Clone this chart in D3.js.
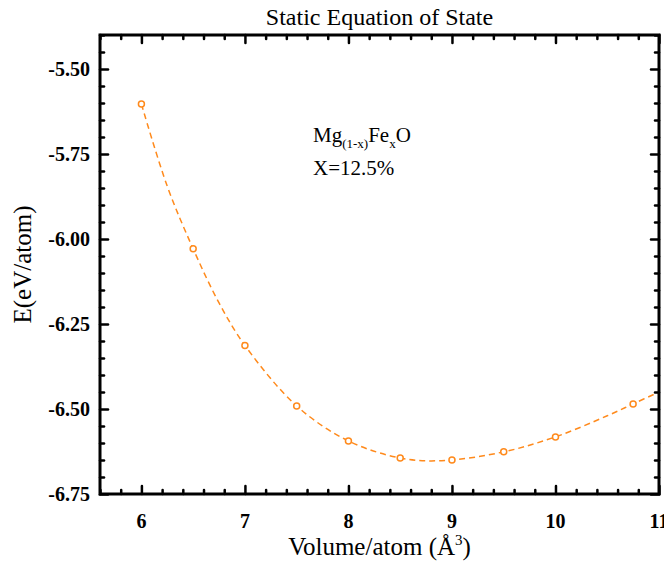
<!DOCTYPE html>
<html>
<head>
<meta charset="utf-8">
<script src="https://cdn.jsdelivr.net/npm/d3@7"></script>
<style>
  html, body { margin: 0; padding: 0; background: #fff; }
  svg { display: block; }
</style>
</head>
<body>
<svg id="chart" width="664" height="562"></svg>
<script>
// Calculated energies per atom at each volume
const volumes = [6.0, 6.5, 7.0, 7.5, 8.0, 8.5, 9.0, 9.5, 10.0, 10.75];
const energies = [-5.603, -6.029, -6.313, -6.491, -6.594, -6.644, -6.650, -6.626, -6.582, -6.485];

// Equation-of-state fit curve, sampled along the volume range
const fitVolumes = [6.0, 6.25, 6.5, 6.75, 7.0, 7.5, 8.0, 8.5, 8.9, 9.5, 10.0, 10.5, 10.75, 11.0];
const fitEnergies = [-5.603, -5.845, -6.029, -6.188, -6.313, -6.491, -6.594, -6.644, -6.652, -6.626, -6.582, -6.520, -6.485, -6.450];

const xMajorTicks = [6, 7, 8, 9, 10, 11];
const yMajorTicks = [-5.50, -5.75, -6.00, -6.25, -6.50, -6.75];

const FONT = "Liberation Serif, Tinos, Nimbus Roman, FreeSerif, Noto Serif, DejaVu Serif, Times New Roman, Times, serif";

const svg = d3.select("#chart").style("font-family", FONT);
const m = { left: 100, right: 659, top: 35, bottom: 494 };

const x = d3.scaleLinear().domain([5.6, 11]).range([m.left, m.right]);
const y = d3.scaleLinear().domain([-6.75, -5.40]).range([m.bottom, m.top]);

const orange = "#ff8a1c";

// Dashed fit curve
const line = d3.line()
  .x((d, i) => x(fitVolumes[i]))
  .y((d, i) => y(fitEnergies[i]))
  .curve(d3.curveCatmullRom);

svg.append("path")
  .datum(fitVolumes)
  .attr("d", line)
  .attr("fill", "none")
  .attr("stroke", orange)
  .attr("stroke-width", 1.5)
  .attr("stroke-dasharray", "6,4");

// Data markers
svg.append("g").selectAll("circle")
  .data(volumes)
  .join("circle")
  .attr("cx", d => x(d))
  .attr("cy", (d, i) => y(energies[i]))
  .attr("r", 3)
  .attr("fill", "#fff")
  .attr("stroke", orange)
  .attr("stroke-width", 1.5);

// Axes with inward ticks (major + minor) on all four sides
const xMinor = d3.range(5.6, 11.001, 0.2).filter(v => Math.abs(v - Math.round(v)) > 1e-6);
const yMinor = d3.range(-6.75, -5.399, 0.05).filter(v => Math.abs(v * 4 - Math.round(v * 4)) > 1e-6);

function tickStyle(g) {
  g.select(".domain").remove();
  g.selectAll("line").attr("stroke", "#000").attr("stroke-width", 2.5).attr("stroke-linecap", "round");
}

// bottom
svg.append("g").attr("transform", `translate(0,${m.bottom})`)
  .call(d3.axisTop(x).tickValues(xMinor).tickSize(4).tickFormat(""))
  .call(tickStyle);
svg.append("g").attr("transform", `translate(0,${m.bottom})`)
  .call(d3.axisTop(x).tickValues(xMajorTicks).tickSize(8).tickFormat(""))
  .call(tickStyle);
// top
svg.append("g").attr("transform", `translate(0,${m.top})`)
  .call(d3.axisBottom(x).tickValues(xMinor).tickSize(4).tickFormat(""))
  .call(tickStyle);
svg.append("g").attr("transform", `translate(0,${m.top})`)
  .call(d3.axisBottom(x).tickValues(xMajorTicks).tickSize(8).tickFormat(""))
  .call(tickStyle);
// left
svg.append("g").attr("transform", `translate(${m.left},0)`)
  .call(d3.axisRight(y).tickValues(yMinor).tickSize(4).tickFormat(""))
  .call(tickStyle);
svg.append("g").attr("transform", `translate(${m.left},0)`)
  .call(d3.axisRight(y).tickValues(yMajorTicks).tickSize(8).tickFormat(""))
  .call(tickStyle);
// right
svg.append("g").attr("transform", `translate(${m.right},0)`)
  .call(d3.axisLeft(y).tickValues(yMinor).tickSize(4).tickFormat(""))
  .call(tickStyle);
svg.append("g").attr("transform", `translate(${m.right},0)`)
  .call(d3.axisLeft(y).tickValues(yMajorTicks).tickSize(8).tickFormat(""))
  .call(tickStyle);

// Frame
svg.append("rect")
  .attr("x", m.left).attr("y", m.top)
  .attr("width", m.right - m.left).attr("height", m.bottom - m.top)
  .attr("fill", "none").attr("stroke", "#000").attr("stroke-width", 3);

// Tick labels
svg.append("g").selectAll("text")
  .data(xMajorTicks)
  .join("text")
  .style("font-family", FONT)
  .attr("x", d => x(d))
  .attr("y", m.bottom + 34)
  .attr("text-anchor", "middle")
  .attr("font-size", 20)
  .attr("font-weight", "bold")
  .text(d => d);

svg.append("g").selectAll("text")
  .data(yMajorTicks)
  .join("text")
  .style("font-family", FONT)
  .attr("x", m.left - 10)
  .attr("y", d => y(d) + 7)
  .attr("text-anchor", "end")
  .attr("font-size", 20)
  .attr("font-weight", "bold")
  .text(d => d3.format(".2f")(d).replace("−", "-"));

// Title
svg.append("text")
  .style("font-family", FONT)
  .attr("x", (m.left + m.right) / 2)
  .attr("y", 25)
  .attr("text-anchor", "middle")
  .attr("font-size", 24)
  .text("Static Equation of State");

// X axis title
const xt = svg.append("text")
  .style("font-family", FONT)
  .attr("x", (m.left + m.right) / 2)
  .attr("y", 555)
  .attr("text-anchor", "middle")
  .attr("font-size", 25);
xt.append("tspan").text("Volume/atom (Å");
xt.append("tspan").attr("font-size", 15).attr("dy", -10).text("3");
xt.append("tspan").attr("dy", 10).text(")");

// Y axis title
svg.append("text")
  .style("font-family", FONT)
  .attr("transform", `translate(31,${(m.top + m.bottom) / 2}) rotate(-90)`)
  .attr("text-anchor", "middle")
  .attr("font-size", 25)
  .text("E(eV/atom)");

// Composition annotation
const ann = svg.append("text")
  .style("font-family", FONT)
  .attr("x", 313)
  .attr("y", 142)
  .attr("font-size", 21);
ann.append("tspan").text("Mg");
ann.append("tspan").attr("font-size", 13).attr("dy", 6).text("(1-x)");
ann.append("tspan").attr("dy", -6).text("Fe");
ann.append("tspan").attr("font-size", 13).attr("dy", 6).text("x");
ann.append("tspan").attr("dy", -6).text("O");

svg.append("text")
  .style("font-family", FONT)
  .attr("x", 313)
  .attr("y", 175)
  .attr("font-size", 21)
  .text("X=12.5%");
</script>
</body>
</html>
